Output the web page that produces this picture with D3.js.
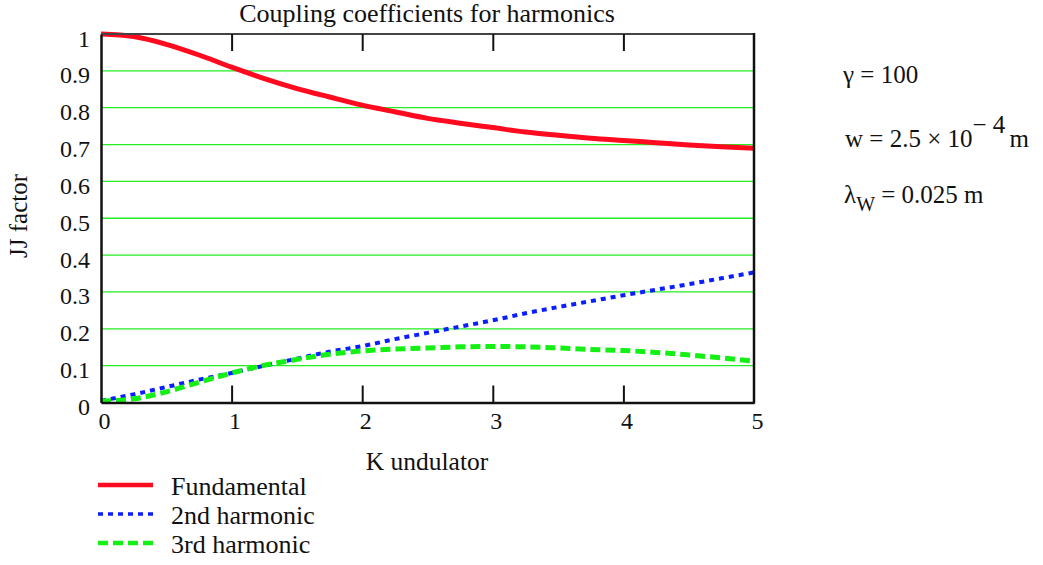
<!DOCTYPE html>
<html>
<head>
<meta charset="utf-8">
<script src="https://cdn.jsdelivr.net/npm/d3@7/dist/d3.min.js"></script>
<style>
  html, body { margin: 0; padding: 0; background: #fff; }
  svg { display: block; font-family: "Liberation Serif", "Times New Roman", serif; }
</style>
</head>
<body>
<svg id="chart" width="1043" height="565"></svg>
<script>
// Undulator parameter K
const kValues = [0, 0.25, 0.5, 0.75, 1, 1.25, 1.5, 1.75, 2, 2.25, 2.5, 2.75, 3, 3.25, 3.5, 3.75, 4, 4.25, 4.5, 4.75, 5];
// JJ coupling factors per harmonic
const fundamental = [1.000, 0.993, 0.972, 0.943, 0.910, 0.879, 0.852, 0.829, 0.807, 0.789, 0.771, 0.758, 0.746, 0.734, 0.725, 0.717, 0.711, 0.705, 0.699, 0.694, 0.690];
const harmonic2 = [0.005, 0.022, 0.042, 0.062, 0.080, 0.100, 0.119, 0.138, 0.153, 0.172, 0.189, 0.206, 0.223, 0.242, 0.259, 0.275, 0.291, 0.306, 0.321, 0.337, 0.353];
const harmonic3 = [0.004, 0.010, 0.029, 0.055, 0.080, 0.101, 0.117, 0.131, 0.140, 0.145, 0.148, 0.151, 0.152, 0.151, 0.148, 0.144, 0.141, 0.136, 0.129, 0.121, 0.112];
const xTicks = [0, 1, 2, 3, 4, 5];
const yTicks = [0, 0.1, 0.2, 0.3, 0.4, 0.5, 0.6, 0.7, 0.8, 0.9, 1];
const seriesNames = ["Fundamental", "2nd harmonic", "3rd harmonic"];

const svg = d3.select("#chart");
const x = d3.scaleLinear().domain([0, 5]).range([101, 754]);
const y = d3.scaleLinear().domain([0, 1]).range([402.5, 34]);

const styles = [
  { color: "#ff0a1e", width: 5, dash: null },
  { color: "#0a1eff", width: 4, dash: "5,5" },
  { color: "#14f014", width: 5, dash: "10,5" }
];
const seriesData = [fundamental, harmonic2, harmonic3];

// horizontal grid
svg.append("g").selectAll("line")
  .data(yTicks.filter(v => v > 0 && v < 1))
  .join("line")
  .attr("x1", x(0)).attr("x2", x(5))
  .attr("y1", d => y(d)).attr("y2", d => y(d))
  .attr("stroke", "#22ee22").attr("stroke-width", 1.3);

// curves
const line = d3.line()
  .x((d, i) => x(kValues[i]))
  .y(d => y(d))
  .curve(d3.curveMonotoneX);

svg.append("g").selectAll("path")
  .data(seriesData)
  .join("path")
  .attr("d", d => line(d))
  .attr("fill", "none")
  .attr("stroke", (d, i) => styles[i].color)
  .attr("stroke-width", (d, i) => styles[i].width)
  .attr("stroke-dasharray", (d, i) => styles[i].dash);

// frame
svg.append("line").attr("x1", x(0)).attr("x2", x(5)).attr("y1", y(1)).attr("y2", y(1))
  .attr("stroke", "#444").attr("stroke-width", 2);
svg.append("line").attr("x1", x(5)).attr("x2", x(5)).attr("y1", y(1) - 1).attr("y2", y(0) + 1)
  .attr("stroke", "#111").attr("stroke-width", 2.5);

// bottom axis: ticks pointing up into plot
const xAxis = d3.axisBottom(x).tickValues(xTicks).tickFormat(d3.format("d"))
  .tickSizeInner(-17).tickSizeOuter(0).tickPadding(9);
const gx = svg.append("g").attr("transform", `translate(0,${y(0)})`).call(xAxis);
gx.select(".domain").attr("stroke", "#111").attr("stroke-width", 2.5);
gx.selectAll(".tick line").attr("stroke", "#111").attr("stroke-width", 2)
  .attr("display", d => (d === 0 || d === 5) ? "none" : null);
gx.selectAll(".tick text")
  .attr("font-family", "Liberation Serif, Times New Roman, serif")
  .attr("font-size", 24).attr("fill", "#111").attr("dx", 3);

// top axis: ticks pointing down
const xTop = d3.axisTop(x).tickValues([1, 2, 3, 4]).tickFormat("")
  .tickSizeInner(-17).tickSizeOuter(0);
const gt = svg.append("g").attr("transform", `translate(0,${y(1)})`).call(xTop);
gt.select(".domain").remove();
gt.selectAll(".tick line").attr("stroke", "#111").attr("stroke-width", 2);

// left axis
const yAxis = d3.axisLeft(y).tickValues(yTicks).tickFormat(d => d === 0 || d === 1 ? d3.format("d")(d) : d3.format(".1f")(d))
  .tickSize(0).tickPadding(11);
const gy = svg.append("g").attr("transform", `translate(${x(0)},0)`).call(yAxis);
gy.select(".domain").attr("stroke", "#111").attr("stroke-width", 2.5);
gy.selectAll(".tick text")
  .attr("font-family", "Liberation Serif, Times New Roman, serif")
  .attr("font-size", 24).attr("fill", "#111").attr("dy", "0.5em");

// title and axis labels
svg.append("text").attr("x", 427).attr("y", 22).attr("text-anchor", "middle")
  .attr("font-size", 26).attr("fill", "#111").text("Coupling coefficients for harmonics");
svg.append("text").attr("x", 427).attr("y", 470).attr("text-anchor", "middle")
  .attr("font-size", 25.5).attr("fill", "#111").text("K undulator");
svg.append("text").attr("transform", "translate(27,216) rotate(-90)").attr("text-anchor", "middle")
  .attr("font-size", 25).attr("fill", "#111").text("JJ factor");

// legend
const legendY = [485, 514, 543];
const lg = svg.append("g").selectAll("g").data(seriesNames).join("g")
  .attr("transform", (d, i) => `translate(0,${legendY[i]})`);
lg.append("line").attr("x1", 98).attr("x2", 153).attr("y1", 0).attr("y2", 0)
  .attr("stroke", (d, i) => styles[i].color)
  .attr("stroke-width", (d, i) => styles[i].width - 0.5)
  .attr("stroke-dasharray", (d, i) => styles[i].dash);
lg.append("text").attr("x", 171).attr("y", 0).attr("dy", "0.38em")
  .attr("font-size", 26).attr("fill", "#111").text(d => d);

// parameter annotations
const ann = svg.append("g").attr("font-size", 25).attr("fill", "#111");
ann.append("text").attr("x", 843).attr("y", 83).text("γ = 100");
const w = ann.append("text").attr("x", 845).attr("y", 147);
w.append("tspan").text("w = 2.5 × 10");
w.append("tspan").attr("dy", -14).text("− 4");
w.append("tspan").attr("dy", 14).attr("dx", 4).text("m");
const lw = ann.append("text").attr("x", 844).attr("y", 203);
lw.append("tspan").text("λ");
lw.append("tspan").attr("dy", 8).attr("font-size", 20).text("W");
lw.append("tspan").attr("dy", -8).text(" = 0.025 m");
</script>
</body>
</html>
